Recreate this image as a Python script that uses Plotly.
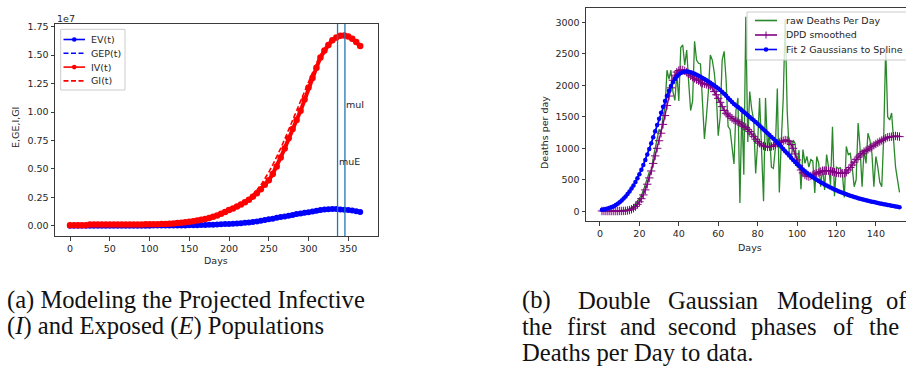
import plotly.graph_objects as go

W, H = 906, 369

# ---------------- panel (a): projected infective / exposed populations ----------------
days_a = list(range(0, 366, 5))

# values in units of 1e7
ev = [0.000, 0.000, 0.000, 0.000, 0.000, 0.000, 0.000, 0.000, 0.000, 0.000,
      0.000, 0.000, 0.000, 0.000, 0.000, 0.000, 0.000, 0.000, 0.000, 0.000,
      0.000, 0.001, 0.001, 0.001, 0.001, 0.001, 0.001, 0.002, 0.002, 0.002,
      0.003, 0.004, 0.005, 0.006, 0.007, 0.008, 0.009, 0.011, 0.012, 0.014,
      0.016, 0.018, 0.020, 0.022, 0.025, 0.028, 0.033, 0.038, 0.044, 0.050,
      0.056, 0.062, 0.069, 0.076, 0.082, 0.088, 0.095, 0.102, 0.108, 0.113,
      0.118, 0.125, 0.131, 0.137, 0.142, 0.145, 0.147, 0.146, 0.143, 0.140,
      0.137, 0.133, 0.128, 0.120]

gep = [0.000, 0.000, 0.000, 0.000, 0.000, 0.000, 0.000, 0.000, 0.000, 0.000,
       0.000, 0.000, 0.000, 0.000, 0.000, 0.000, 0.000, 0.000, 0.000, 0.000,
       0.000, 0.000, 0.000, 0.001, 0.001, 0.001, 0.002, 0.002, 0.003, 0.003,
       0.004, 0.005, 0.006, 0.007, 0.008, 0.010, 0.011, 0.013, 0.015, 0.017,
       0.020, 0.022, 0.025, 0.028, 0.032, 0.036, 0.040, 0.045, 0.051, 0.057,
       0.063, 0.070, 0.077, 0.084, 0.091, 0.098, 0.105, 0.111, 0.117, 0.123,
       0.128, 0.133, 0.137, 0.141, 0.144, 0.146, 0.147, 0.147, 0.146, 0.144,
       0.141, 0.137, 0.133, 0.128]

iv = [0.004, 0.004, 0.004, 0.004, 0.004, 0.010, 0.010, 0.010, 0.010, 0.010,
      0.010, 0.010, 0.010, 0.010, 0.011, 0.011, 0.011, 0.011, 0.011, 0.012,
      0.012, 0.012, 0.013, 0.014, 0.015, 0.018, 0.020, 0.023, 0.026, 0.030,
      0.035, 0.040, 0.046, 0.053, 0.060, 0.068, 0.078, 0.090, 0.104, 0.120,
      0.138, 0.152, 0.168, 0.186, 0.206, 0.228, 0.255, 0.285, 0.320, 0.360,
      0.400, 0.455, 0.520, 0.600, 0.680, 0.770, 0.850, 0.930, 1.010, 1.110,
      1.215, 1.300, 1.390, 1.480, 1.540, 1.590, 1.630, 1.655, 1.670, 1.672,
      1.665, 1.645, 1.615, 1.580]

gi = [0.000, 0.000, 0.000, 0.000, 0.000, 0.000, 0.000, 0.000, 0.000, 0.000,
      0.000, 0.000, 0.000, 0.000, 0.000, 0.000, 0.000, 0.000, 0.000, 0.000,
      0.001, 0.001, 0.002, 0.003, 0.004, 0.006, 0.008, 0.011, 0.014, 0.018,
      0.023, 0.029, 0.036, 0.044, 0.053, 0.063, 0.074, 0.086, 0.099, 0.113,
      0.128, 0.145, 0.164, 0.186, 0.211, 0.240, 0.273, 0.312, 0.357, 0.410,
      0.470, 0.535, 0.605, 0.680, 0.760, 0.845, 0.930, 1.015, 1.100, 1.185,
      1.270, 1.350, 1.430, 1.500, 1.560, 1.605, 1.640, 1.660, 1.670, 1.670,
      1.660, 1.640, 1.610, 1.575]

mu_e = 336.5
mu_i = 345.8

a_xticks = [0, 50, 100, 150, 200, 250, 300, 350]
a_yticks = [0.00, 0.25, 0.50, 0.75, 1.00, 1.25, 1.50, 1.75]
a_yticklabels = ["0.00", "0.25", "0.50", "0.75", "1.00", "1.25", "1.50", "1.75"]

# ---------------- panel (b): deaths per day ----------------
days_b = list(range(1, 153))

raw_deaths = [
    0, 0, 0, 2, 3, 5, 4, 8, 10, 12,
    14, 18, 22, 28, 38, 52, 70, 105, 150, 200,
    255, 330, 420, 520, 620, 600, 850, 1000, 1150, 1300,
    1250, 1500, 1650, 2240, 2100, 2240, 1900, 1760, 2190, 1750,
    2600, 2640, 2320, 2560, 2050, 1600, 1750, 2700, 2400, 2350,
    2340, 1750, 1150, 1500, 1900, 2480, 2400, 2200, 1870, 1200,
    1500, 2400, 2540, 2080, 1350, 1300, 1000, 750, 1600, 1800,
    130, 1650, 580, 3090, 1100, 1900, 1620, 1450, 600, 1080,
    1800, 900, 160, 1800, 1000, 1250, 700, 680, 1000, 1950,
    300, 1100, 1800, 3050, 1600, 950, 820, 1130, 1080, 700,
    970, 350, 980, 760, 870, 700, 820, 800, 290, 870,
    760, 390, 710, 340, 900, 700, 420, 1340, 240, 700,
    680, 690, 600, 220, 1030, 900, 920, 700, 390, 500,
    1400, 1000, 390, 970, 760, 1240, 1130, 920, 390, 870,
    700, 460, 390, 1200, 2600, 1500, 1450, 1560, 1100, 700,
    500, 300]

dpd_smoothed = [
    5, 5, 4, 4, 4, 4, 4, 4, 4, 5,
    5, 6, 8, 12, 20, 32, 50, 75, 110, 150,
    200, 260, 340, 430, 530, 640, 760, 880, 1000, 1120,
    1240, 1380, 1520, 1680, 1830, 1960, 2080, 2160, 2210, 2235,
    2245, 2245, 2230, 2210, 2180, 2150, 2130, 2110, 2090, 2074,
    2050, 2032, 2025, 2016, 2005, 1990, 1960, 1900, 1850, 1794,
    1730, 1661, 1600, 1556, 1530, 1503, 1475, 1450, 1435, 1423,
    1400, 1370, 1350, 1333, 1300, 1265, 1225, 1185, 1145, 1106,
    1080, 1053, 1038, 1026, 1022, 1026, 1030, 1037, 1058, 1079,
    1092, 1106, 1120, 1132, 1125, 1106, 1060, 1000, 910, 815,
    730, 656, 610, 577, 560, 550, 560, 577, 590, 603,
    616, 630, 640, 645, 645, 645, 640, 630, 620, 614,
    608, 603, 603, 603, 620, 656, 695, 735, 780, 825,
    860, 894, 920, 947, 965, 984, 1005, 1026, 1048, 1069,
    1088, 1106, 1125, 1143, 1160, 1175, 1180, 1185, 1190, 1196,
    1190, 1185]

gauss_fit = [
    25, 30, 37, 45, 55, 67, 82, 100, 120, 145,
    172, 202, 236, 273, 315, 360, 410, 465, 525, 590,
    660, 735, 815, 900, 990, 1080, 1175, 1270, 1370, 1470,
    1565, 1660, 1750, 1835, 1915, 1990, 2050, 2100, 2140, 2170,
    2195, 2208, 2215, 2218, 2215, 2207, 2196, 2183, 2168, 2152,
    2135, 2118, 2100, 2082, 2062, 2040, 2018, 1995, 1972, 1948,
    1925, 1895, 1865, 1833, 1800, 1768, 1736, 1704, 1680, 1655,
    1630, 1605, 1578, 1552, 1525, 1498, 1471, 1444, 1416, 1388,
    1360, 1330, 1300, 1270, 1240, 1210, 1180, 1150, 1120, 1090,
    1058, 1025, 990, 955, 920, 885, 850, 815, 782, 750,
    720, 690, 662, 635, 610, 586, 563, 541, 520, 500,
    481, 462, 444, 427, 410, 394, 378, 363, 348, 334,
    320, 307, 294, 282, 270, 259, 248, 238, 228, 218,
    209, 200, 191, 183, 175, 167, 160, 153, 146, 140,
    130, 124, 118, 112, 106, 100, 95, 90, 85, 78,
    72, 66]

b_xticks = [0, 20, 40, 60, 80, 100, 120, 140]
b_yticks = [0, 500, 1000, 1500, 2000, 2500, 3000]

# ---------------- styling ----------------
TXT = "#262626"
SPINE = "#3a3a3a"
TICKFONT = dict(family="DejaVu Sans", size=9.5, color=TXT)
SERIF = "Liberation Serif"
CAP_SIZE = 24.6
DASH = "5px,2.5px"


def px(x):
    return x / W


def py(y):
    return 1 - y / H


scale = 1e7
fig = go.Figure()

fig.add_trace(go.Scatter(x=days_a, y=[v * scale for v in ev], mode="lines+markers",
                         line=dict(color="blue", width=3.6), marker=dict(size=6, color="blue"),
                         xaxis="x", yaxis="y"))
fig.add_trace(go.Scatter(x=days_a, y=[v * scale for v in gep], mode="lines",
                         line=dict(color="blue", width=1.6, dash=DASH),
                         xaxis="x", yaxis="y"))
fig.add_trace(go.Scatter(x=days_a, y=[v * scale for v in iv], mode="lines+markers",
                         line=dict(color="red", width=4), marker=dict(size=6.5, color="red"),
                         xaxis="x", yaxis="y"))
fig.add_trace(go.Scatter(x=days_a, y=[v * scale for v in gi], mode="lines",
                         line=dict(color="red", width=1.6, dash=DASH),
                         xaxis="x", yaxis="y"))

fig.add_trace(go.Scatter(x=days_b, y=raw_deaths, mode="lines",
                         line=dict(color="#2a872a", width=1.3),
                         xaxis="x2", yaxis="y2"))
fig.add_trace(go.Scatter(x=days_b, y=dpd_smoothed, mode="lines+markers",
                         line=dict(color="purple", width=1.4),
                         marker=dict(symbol="cross-thin", size=6, line=dict(color="purple", width=1)),
                         xaxis="x2", yaxis="y2"))
fig.add_trace(go.Scatter(x=days_b, y=gauss_fit, mode="lines+markers",
                         line=dict(color="blue", width=1.8), marker=dict(size=4.5, color="blue"),
                         xaxis="x2", yaxis="y2"))

axis_common = dict(showgrid=False, zeroline=False, showline=True, linecolor=SPINE, linewidth=1,
                   ticks="outside", ticklen=3.5, tickwidth=0.8, tickcolor=SPINE, tickfont=TICKFONT)

fig.update_layout(
    width=W, height=H,
    margin=dict(l=0, r=0, t=0, b=0, autoexpand=False),
    paper_bgcolor="white", plot_bgcolor="white",
    showlegend=False,
    xaxis=dict(domain=[px(55), px(378)], range=[-18.9, 387.4], anchor="y", mirror=True,
               tickvals=a_xticks, **axis_common),
    yaxis=dict(domain=[py(236), py(24)], range=[-0.0906 * scale, 1.774 * scale], anchor="x",
               mirror=True, tickvals=[v * scale for v in a_yticks], ticktext=a_yticklabels,
               **axis_common),
    xaxis2=dict(domain=[px(586), 1.0], range=[-7.1, 155.3], anchor="y2", mirror=True,
                tickvals=b_xticks, **axis_common),
    yaxis2=dict(domain=[py(221), py(7.7)], range=[-154, 3232], anchor="x2", mirror=False,
                tickvals=b_yticks, **axis_common),
)

shapes = []
annotations = []

# vertical markers at the two fitted centres
for mu in (mu_e, mu_i):
    shapes.append(dict(type="line", xref="x", yref="y domain", x0=mu, x1=mu, y0=0, y1=1,
                       line=dict(color="#1f77b4", width=1.3), layer="above"))
annotations.append(dict(x=mu_e, y=0.5 * scale, xref="x", yref="y", text="muE", showarrow=False,
                        xanchor="left", yanchor="bottom", font=TICKFONT, xshift=-1))
annotations.append(dict(x=mu_i, y=1.0 * scale, xref="x", yref="y", text="muI", showarrow=False,
                        xanchor="left", yanchor="bottom", font=TICKFONT, xshift=-1))

# axis titles and offset text
annotations += [
    dict(x=px(55), y=py(18), xref="paper", yref="paper", text="1e7", showarrow=False,
         xanchor="left", yanchor="middle", font=TICKFONT),
    dict(x=px(15), y=py(128), xref="paper", yref="paper", text="E,GE,I,GI", showarrow=False,
         textangle=-90, xanchor="center", yanchor="middle", font=TICKFONT),
    dict(x=px(216), y=py(260), xref="paper", yref="paper", text="Days", showarrow=False,
         xanchor="center", yanchor="middle", font=TICKFONT),
    dict(x=px(544), y=py(133), xref="paper", yref="paper", text="Deaths per day", showarrow=False,
         textangle=-90, xanchor="center", yanchor="middle", font=TICKFONT),
    dict(x=px(750), y=py(247), xref="paper", yref="paper", text="Days", showarrow=False,
         xanchor="center", yanchor="middle", font=TICKFONT),
]


def legend_box(x0, y0, x1, y1):
    shapes.append(dict(type="rect", xref="paper", yref="paper", x0=px(x0), x1=px(x1),
                       y0=py(y1), y1=py(y0), fillcolor="rgba(255,255,255,0.8)",
                       line=dict(color="#cccccc", width=1), layer="above"))


def legend_entry(xs, xe, y, color, dash=None, marker=None, label="", tx=0):
    shapes.append(dict(type="line", xref="paper", yref="paper", x0=px(xs), x1=px(xe),
                       y0=py(y), y1=py(y), layer="above",
                       line=dict(color=color, width=1.6, dash=dash or "solid")))
    xc = (xs + xe) / 2
    if marker == "dot":
        r = 2.3
        shapes.append(dict(type="circle", xref="paper", yref="paper", x0=px(xc - r), x1=px(xc + r),
                           y0=py(y + r), y1=py(y - r), fillcolor=color, line=dict(width=0),
                           layer="above"))
    elif marker == "plus":
        shapes.append(dict(type="line", xref="paper", yref="paper", x0=px(xc), x1=px(xc),
                           y0=py(y + 3.5), y1=py(y - 3.5), line=dict(color=color, width=1),
                           layer="above"))
    annotations.append(dict(x=px(tx), y=py(y), xref="paper", yref="paper", text=label,
                            showarrow=False, xanchor="left", yanchor="middle", font=TICKFONT))


# legend of panel (a)
legend_box(60.7, 29.3, 125, 90)
rows_a = [39.5, 53.3, 67.1, 80.9]
legend_entry(63.5, 85, rows_a[0], "blue", marker="dot", label="EV(t)", tx=89)
legend_entry(63.5, 85, rows_a[1], "blue", dash=DASH, label="GEP(t)", tx=89)
legend_entry(63.5, 85, rows_a[2], "red", marker="dot", label="IV(t)", tx=89)
legend_entry(63.5, 85, rows_a[3], "red", dash=DASH, label="GI(t)", tx=89)

# legend of panel (b)
legend_box(747, 12, 940, 60)
rows_b = [20.5, 35, 49.5]
legend_entry(755, 777, rows_b[0], "#2a872a", label="raw Deaths Per Day", tx=784)
legend_entry(755, 777, rows_b[1], "purple", marker="plus", label="DPD smoothed", tx=784)
legend_entry(755, 777, rows_b[2], "blue", marker="dot", label="Fit 2 Gaussians to Spline", tx=784)

# sub-figure captions
CAP = dict(family=SERIF, size=CAP_SIZE, color="#111111")


def caption(x, y, text):
    annotations.append(dict(x=px(x), y=py(y), xref="paper", yref="paper", text=text,
                            showarrow=False, xanchor="left", yanchor="middle", font=CAP))


caption(5, 300, "(a) Modeling the Projected Infective")
caption(5, 326, "(<i>I</i>) and Exposed (<i>E</i>) Populations")

cap_b1 = [("(b)", 520), ("Double", 576), ("Gaussian", 666), ("Modeling", 775), ("of", 884)]
cap_b2 = [("the", 520), ("first", 565), ("and", 618), ("second", 666), ("phases", 749),
          ("of", 831), ("the", 867)]
for word, x in cap_b1:
    caption(x, 300, word)
for word, x in cap_b2:
    caption(x, 326, word)
caption(520, 352, "Deaths per Day to data.")

fig.update_layout(shapes=shapes, annotations=annotations)
fig.write_html("out.html")
